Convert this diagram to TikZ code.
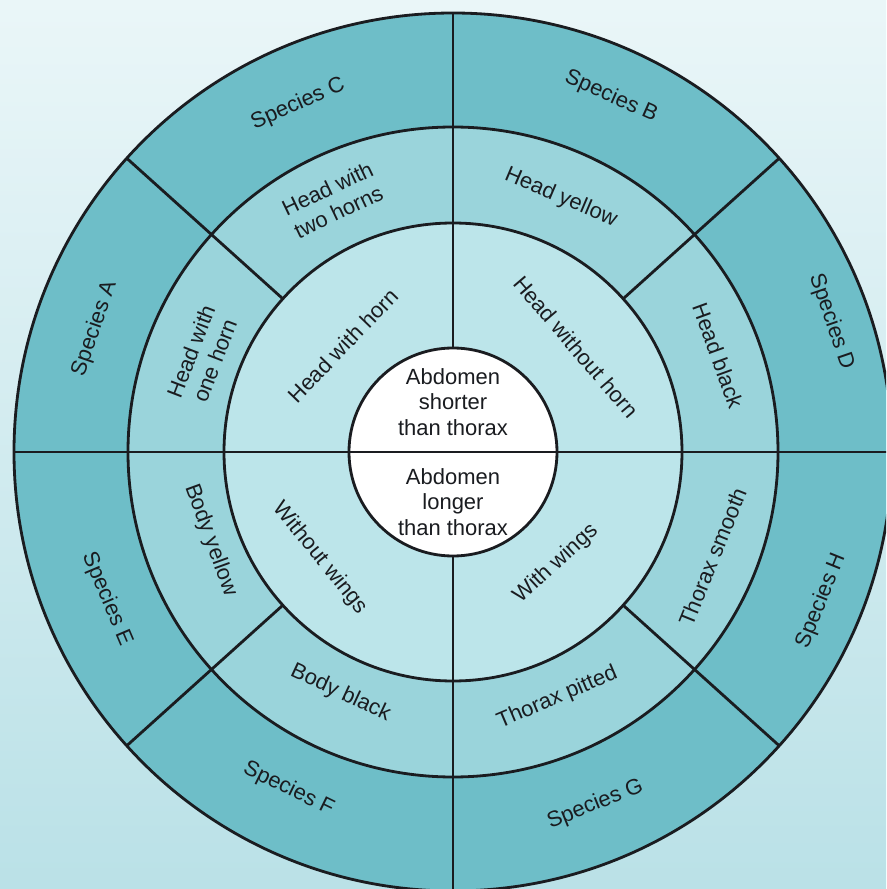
\documentclass[tikz,border=0pt]{standalone}
\usepackage{fontspec}
\setmainfont{Liberation Sans}
\definecolor{bgtop}{RGB}{234,246,248}
\definecolor{bgbottom}{RGB}{186,225,231}
\definecolor{ringout}{RGB}{110,190,200}
\definecolor{ringmid}{RGB}{154,212,219}
\definecolor{ringin}{RGB}{188,229,234}
\definecolor{ink}{RGB}{26,28,32}
\tikzset{
  lbl/.style={text=ink, font=\fontsize{12.5}{14.5}\selectfont, align=center, inner sep=0pt},
}
\begin{document}
\begin{tikzpicture}[x=0.02cm, y=0.02cm, line width=1.6pt, color=ink]
      \shade[top color=bgtop, bottom color=bgbottom] (-453,-437) rectangle (433,452);
      \clip (-453,-437) rectangle (433,452);
      \filldraw[fill=ringout] (0,0) circle (439);
      \filldraw[fill=ringmid] (0,0) circle (325);
      \filldraw[fill=ringin] (0,0) circle (229);
      \filldraw[fill=white] (0,0) circle (104);
      \begin{scope}
        \draw (180:439) -- (0:439);
        \draw (90:104) -- (90:439);
        \draw (270:104) -- (270:439);
        \foreach \a in {42,138,222,318}
          \draw (\a:229) -- (\a:439);
      \end{scope}
      \path
        (114:381) node[lbl, rotate=24] (C){Species C}
        (66:389) node[lbl, rotate=-24] (B){Species B}
        (19:400) node[lbl, rotate=-71] (D){Species D}
        (161:379) node[lbl, rotate=71] (A){Species A}
        (203:376) node[lbl, rotate=-67] (E){Species E}
        (244:375) node[lbl, rotate=-26] (F){Species F}
        (292:380) node[lbl, rotate=22] (G){Species G}
        (338:397) node[lbl, rotate=68] (H){Species H};
      \path
        (115.5:279) node[lbl, rotate=25.5] (twohorns){Head with\\two horns}
        (67:276) node[lbl, rotate=-23] (yellowhead){Head yellow}
        (20:282) node[lbl, rotate=-70] (blackhead){Head black}
        (159:268) node[lbl, rotate=69] (onehorn){Head with\\one horn}
        (200:258) node[lbl, rotate=-70] (yellowbody){Body yellow}
        (245:266) node[lbl, rotate=-25] (blackbody){Body black}
        (293:267) node[lbl, rotate=23] (pitted){Thorax pitted}
        (338:280) node[lbl, rotate=68] (smooth){Thorax smooth};
      \path
        (136:153) node[lbl, rotate=46] (horn){Head with horn}
        (40.5:162) node[lbl, rotate=-49.5] (nohorn){Head without horn}
        (218.6:170) node[lbl, rotate=-51] (nowings){Without wings}
        (312.6:152) node[lbl, rotate=42.6] (wings){With wings};
      \path
        (0,50) node[lbl] (shorter){Abdomen\\shorter\\than thorax}
        (0,-50) node[lbl] (longer){Abdomen\\longer\\than thorax};
    \end{tikzpicture}
\end{document}
